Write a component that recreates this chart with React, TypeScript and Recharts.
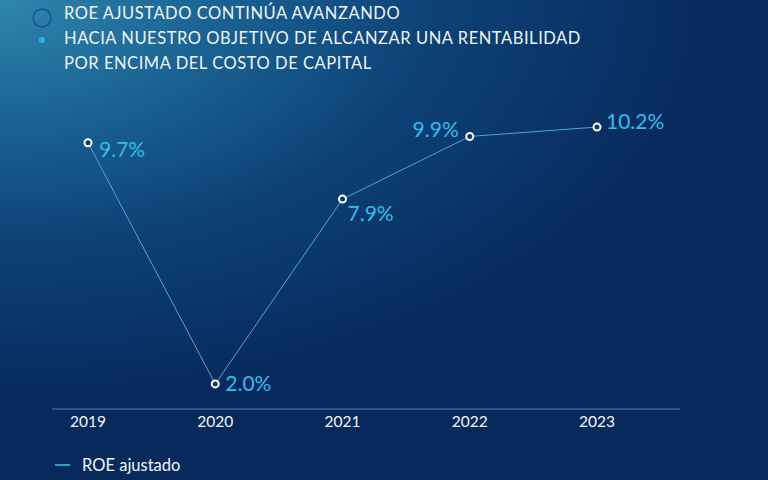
import { LineChart, Line, XAxis, YAxis, LabelList } from "recharts"

const years = ["2019", "2020", "2021", "2022", "2023"]
const roeAjustado = [9.7, 2.0, 7.9, 9.9, 10.2]
const titleLines = [
	"ROE AJUSTADO CONTINÚA AVANZANDO",
	"HACIA NUESTRO OBJETIVO DE ALCANZAR UNA RENTABILIDAD",
	"POR ENCIMA DEL COSTO DE CAPITAL",
]
const seriesName = "ROE ajustado"

const data = years.map((year, i) => ({ year, roe: roeAjustado[i] }))

// where each value label sits relative to its point
const labelOffsets = [
	{ dx: 11, dy: 14, anchor: "start" },
	{ dx: 10, dy: 7, anchor: "start" },
	{ dx: 5, dy: 22, anchor: "start" },
	{ dx: -11, dy: 1, anchor: "end" },
	{ dx: 9, dy: 2, anchor: "start" },
]

const FONT = "Lato, 'Noto Sans', sans-serif"
const CYAN = "#34bdea"

function ValueLabel(props: any) {
	const { x, y, value, index } = props
	const o = labelOffsets[index] ?? { dx: 10, dy: 7, anchor: "start" }
	return (
		<text
			x={x + o.dx}
			y={y + o.dy}
			textAnchor={o.anchor}
			fill={CYAN}
			fontSize={21}
			fontFamily={FONT}
		>
			{value.toFixed(1)}%
		</text>
	)
}

function RingDot(props: any) {
	const { cx, cy } = props
	return <circle cx={cx} cy={cy} r={3.5} fill="#0d3a66" stroke="#ffffff" strokeWidth={2} />
}

export default function App() {
	return (
		<div
			style={{
				position: "absolute",
				left: 0,
				top: 0,
				width: 768,
				height: 480,
				overflow: "hidden",
				fontFamily: FONT,
				background:
					"radial-gradient(ellipse 95% 85% at 0% 0%, #2f86ad 0%, #1a6293 30%, #0d4176 60%, #08295c 100%)",
			}}
		>
			<svg width={30} height={60} style={{ position: "absolute", left: 28, top: 4 }}>
				<circle cx={14} cy={14} r={9} fill="none" stroke="#1d4f95" strokeWidth={1.5} />
				<circle cx={14} cy={36} r={3} fill="#27b3e8" />
			</svg>
			{titleLines.map((line, i) => (
				<div
					key={i}
					style={{
						position: "absolute",
						left: 64,
						top: 3 + i * 25,
						color: "#eef4f8",
						fontSize: 16.5,
						letterSpacing: 0.55,
						whiteSpace: "nowrap",
					}}
				>
					{line}
				</div>
			))}
			<div style={{ position: "absolute", left: 0, top: 0 }}>
				<LineChart width={768} height={480} data={data} margin={{ top: 102, right: 88, left: 52, bottom: 0 }}>
					<XAxis
						dataKey="year"
						height={71}
						padding={{ left: 36, right: 83 }}
						tickLine={false}
						tickSize={0}
						tickMargin={7}
						axisLine={{ stroke: "#5a97c2", strokeWidth: 1, strokeOpacity: 0.8 }}
						tick={{ fill: "#f2f5f8", fontSize: 15.5, fontFamily: FONT }}
					/>
					<YAxis hide domain={[1.2, 11]} />
					<Line
						dataKey="roe"
						name={seriesName}
						stroke="#4fa6d6"
						strokeWidth={1}
						dot={<RingDot />}
						activeDot={false}
						isAnimationActive={false}
					>
						<LabelList dataKey="roe" content={<ValueLabel />} />
					</Line>
				</LineChart>
			</div>
			<div
				style={{
					position: "absolute",
					left: 55,
					top: 455,
					display: "flex",
					alignItems: "center",
					color: "#eef4f8",
					fontSize: 16.5,
				}}
			>
				<span style={{ display: "inline-block", width: 15, height: 2, background: "#2a9fd6", marginRight: 12 }} />
				{seriesName}
			</div>
		</div>
	)
}
